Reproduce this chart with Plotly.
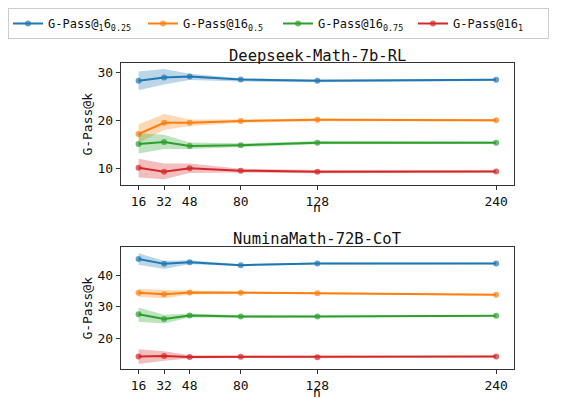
import plotly.graph_objects as go

# sample counts on the x axis
n_values = [16, 32, 48, 80, 128, 240]

series_names = [
    "G-Pass@<sub>1</sub>6<sub>0.25</sub>",
    "G-Pass@16<sub>0.5</sub>",
    "G-Pass@16<sub>0.75</sub>",
    "G-Pass@16<sub>1</sub>",
]
colors = ["#1f77b4", "#ff7f0e", "#2ca02c", "#d62728"]
fills = ["rgba(31,119,180,0.3)", "rgba(255,127,14,0.3)",
         "rgba(44,160,44,0.3)", "rgba(214,39,40,0.3)"]

# Deepseek-Math-7b-RL
ds_mean = [
    [28.25, 28.95, 29.15, 28.5, 28.25, 28.45],
    [17.15, 19.5, 19.5, 19.85, 20.1, 20.0],
    [15.05, 15.5, 14.65, 14.8, 15.35, 15.35],
    [10.1, 9.3, 10.0, 9.5, 9.3, 9.35],
]
ds_low = [
    [26.3, 27.5, 28.4, 28.1, 27.95, 28.2],
    [15.3, 18.0, 18.8, 19.5, 19.8, 19.75],
    [13.1, 14.0, 14.0, 14.4, 15.0, 15.1],
    [8.1, 7.7, 9.0, 9.1, 8.95, 9.1],
]
ds_high = [
    [30.2, 30.7, 29.7, 28.8, 28.5, 28.7],
    [19.2, 21.3, 20.2, 20.2, 20.4, 20.25],
    [17.3, 17.0, 15.4, 15.2, 15.7, 15.6],
    [12.0, 11.0, 11.0, 9.9, 9.65, 9.6],
]

# NuminaMath-72B-CoT
nm_mean = [
    [45.0, 43.5, 44.0, 43.1, 43.6, 43.6],
    [34.4, 34.0, 34.5, 34.45, 34.3, 33.8],
    [27.7, 26.2, 27.3, 27.0, 27.0, 27.2],
    [14.4, 14.6, 14.3, 14.35, 14.2, 14.4],
]
nm_low = [
    [43.2, 41.9, 43.4, 42.8, 43.3, 43.35],
    [33.2, 32.7, 33.9, 34.1, 34.0, 33.55],
    [25.3, 24.8, 26.7, 26.6, 26.7, 26.95],
    [12.1, 13.1, 13.8, 14.0, 13.9, 14.15],
]
nm_high = [
    [46.8, 44.5, 44.6, 43.4, 43.9, 43.85],
    [35.6, 35.3, 35.1, 34.8, 34.6, 34.05],
    [29.8, 27.5, 27.9, 27.4, 27.3, 27.45],
    [16.7, 16.1, 14.8, 14.7, 14.5, 14.65],
]

MONO = "DejaVu Sans Mono"
# the page body keeps its 8px margin, so the figure is 16px smaller
W, H = 576, 390

fig = go.Figure()


def add_panel(means, lows, highs, xa, ya, show_legend):
    for i in range(4):
        fig.add_trace(go.Scatter(
            x=n_values, y=highs[i], xaxis=xa, yaxis=ya,
            mode="lines", line=dict(width=0), showlegend=False,
            hoverinfo="skip"
        ))
        fig.add_trace(go.Scatter(
            x=n_values, y=lows[i], xaxis=xa, yaxis=ya,
            mode="lines", line=dict(width=0), fill="tonexty",
            fillcolor=fills[i], showlegend=False, hoverinfo="skip"
        ))
        fig.add_trace(go.Scatter(
            x=n_values, y=means[i], xaxis=xa, yaxis=ya,
            mode="lines+markers", name=series_names[i],
            line=dict(color=colors[i], width=2),
            marker=dict(color=colors[i], size=6, opacity=0.7),
            legendgroup=str(i), showlegend=show_legend
        ))


add_panel(ds_mean, ds_low, ds_high, "x", "y", True)
add_panel(nm_mean, nm_low, nm_high, "x2", "y2", False)


# window pixel -> paper fraction
def px_x(v):
    return (v - 8) / W


def px_y(v):
    return 1 - (v - 8) / H


x_dom = [px_x(120.7), px_x(514)]
x_mid = sum(x_dom) / 2

axis_style = dict(
    showgrid=False, zeroline=False, showline=True, mirror=True,
    linecolor="#333", linewidth=1, ticks="outside", ticklen=4,
    tickcolor="#333", tickfont=dict(family=MONO, size=13, color="#111"),
)

fig.update_layout(
    width=W, height=H,
    margin=dict(l=0, r=0, t=0, b=0),
    plot_bgcolor="white", paper_bgcolor="white",
    font=dict(family=MONO, color="#111"),
    xaxis=dict(domain=x_dom, anchor="y", range=[4.8, 251.2],
               tickvals=n_values, **axis_style),
    yaxis=dict(domain=[px_y(185.3), px_y(63.3)], anchor="x",
               range=[6.45, 31.9], tickvals=[10, 20, 30],
               title=dict(text="G-Pass@k", font=dict(size=13), standoff=1),
               **axis_style),
    xaxis2=dict(domain=x_dom, anchor="y2", range=[4.8, 251.2],
                tickvals=n_values, **axis_style),
    yaxis2=dict(domain=[px_y(369.3), px_y(247.3)], anchor="x2",
                range=[10.4, 48.7], tickvals=[20, 30, 40],
                title=dict(text="G-Pass@k", font=dict(size=13), standoff=1),
                **axis_style),
    legend=dict(
        orientation="h", x=0, y=1, xanchor="left", yanchor="top",
        bordercolor="#ccc", borderwidth=1, bgcolor="white",
        font=dict(family=MONO, size=12, color="#111"),
        entrywidth=90, entrywidthmode="pixels", itemwidth=30,
    ),
    annotations=[
        dict(text="Deepseek-Math-7b-RL", x=x_mid, y=px_y(55.7),
             xref="paper", yref="paper", xanchor="center", yanchor="middle",
             showarrow=False, font=dict(family=MONO, size=15.5)),
        dict(text="NuminaMath-72B-CoT", x=x_mid, y=px_y(239),
             xref="paper", yref="paper", xanchor="center", yanchor="middle",
             showarrow=False, font=dict(family=MONO, size=15.5)),
        dict(text="n", x=x_mid, y=px_y(208), xref="paper", yref="paper",
             xanchor="center", yanchor="middle", showarrow=False,
             font=dict(family=MONO, size=13)),
        dict(text="n", x=x_mid, y=px_y(392), xref="paper", yref="paper",
             xanchor="center", yanchor="middle", showarrow=False,
             font=dict(family=MONO, size=13)),
    ],
)

fig.write_html("out.html")
